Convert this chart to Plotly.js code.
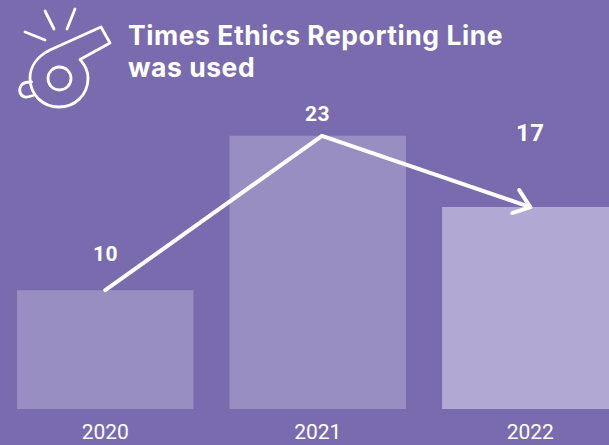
<!DOCTYPE html>
<html>
<head>
<meta charset="utf-8">
<script src="https://cdn.plot.ly/plotly-3.0.1.min.js"></script>
<style>
html,body{margin:0;padding:0;background:#7a6bae;overflow:hidden}
#chart{width:609px;height:445px}
.shapelayer path,.js-line{stroke-linecap:round;stroke-linejoin:round}
.annotation-text{letter-spacing:0.55px}
</style>
</head>
<body>
<div id="chart"></div>
<script>
const years = ['2020', '2021', '2022'];
const positions = [0, 1, 2];
const values = [10, 23, 17];
const linePositions = [0, 1.02, 2];
const barColors = ['#998ec2', '#998ec2', '#b1a8d4'];
const labelShift = [36, 22, 74];
const labelSizes = [21, 21, 24];
const titleLines = ['Times Ethics Reporting Line', 'was used'];
const titleCentres = [35, 67.5];
const bg = '#7a6bae';

const iconPaths = [
  'M45 11 L54 29',
  'M75 9 L67 29',
  'M25 32 L45 40',
  'M80 59.5 L110 43 L101 27 L50 50 C38 56 30 66 30 78 C30 95 43 107 59 107 C75 107 88 95 88 78 C88 71 85 65 80 59.5',
  'M31.5 82 C27 82 24 82 21.5 85 C18 90 20 96 25 97 C28 97.5 31 96 33 95.5'
];
const flip = p => p.replace(/(-?[\d.]+) (-?[\d.]+)/g, (m, a, b) => a + ',' + (-parseFloat(b)));
const pixelShape = {xref:'paper', yref:'paper', xsizemode:'pixel', ysizemode:'pixel', xanchor:0, yanchor:1,
  line:{color:'#fff', width:2.8}};
const shapes = iconPaths.map(p => Object.assign({}, pixelShape, {type:'path', path:flip(p)}));
shapes.push(Object.assign({}, pixelShape, {type:'circle', x0:48, x1:71, y0:-67, y1:-90}));
// open arrow head on the last point of the line
shapes.push({type:'path', xref:'x', yref:'y', xsizemode:'pixel', ysizemode:'pixel',
  xanchor:positions[2], yanchor:values[2], path:flip('M-11 -17 L0 0 L-18 6'),
  line:{color:'#fff', width:4}});

const bars = {type:'bar', x:positions, y:values, width:0.83, marker:{color:barColors, line:{width:0}}, hoverinfo:'skip'};
const line = {type:'scatter', mode:'lines', x:linePositions, y:values, line:{color:'#fff', width:4}, hoverinfo:'skip', cliponaxis:false};

const annotations = positions.map((p, i) => ({
  x:p, y:values[i], xref:'x', yref:'y', text:String(values[i]), showarrow:false, yshift:labelShift[i],
  font:{family:'Roboto', size:labelSizes[i], color:'#fff', weight:700}, xanchor:'center', yanchor:'middle'
}));
titleLines.forEach((t, i) => annotations.push({xref:'paper', yref:'paper', x:126/609, y:1-titleCentres[i]/409, xanchor:'left', yanchor:'middle', align:'left',
  text:t, showarrow:false, font:{family:'Inter', size:26.5, color:'#fff', weight:700}}));

Plotly.newPlot('chart', [bars, line], {
  width:609, height:445, margin:{l:0, r:0, t:0, b:36, pad:0},
  paper_bgcolor:bg, plot_bgcolor:bg, showlegend:false, shapes, annotations,
  xaxis:{type:'linear', range:[-105.25/212.5, (609-105.25)/212.5], tickvals:positions, ticktext:years, fixedrange:true, showgrid:false, zeroline:false, showline:false,
    ticks:'outside', ticklen:4, tickcolor:'rgba(0,0,0,0)',
    tickfont:{family:'Roboto', size:21, color:'#fff'}},
  yaxis:{range:[0, 34.43], visible:false, fixedrange:true}
}, {displayModeBar:false, staticPlot:true});
</script>
</body>
</html>
